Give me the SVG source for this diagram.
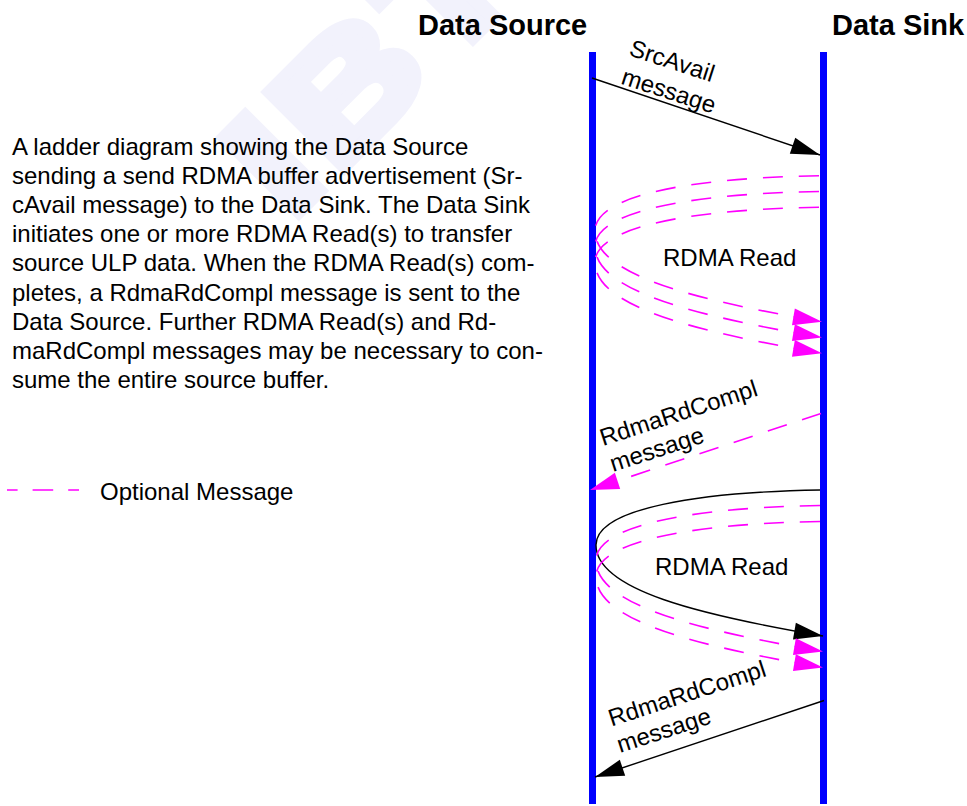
<svg xmlns="http://www.w3.org/2000/svg" width="967" height="806" viewBox="0 0 967 806">
<style>
.t{font-family:"Liberation Sans",Arial,sans-serif;font-size:24px;fill:#000}
.h{font-family:"Liberation Sans",Arial,sans-serif;font-size:29px;font-weight:bold;fill:#000}
.life{stroke:#0000ff;stroke-width:7;fill:none}
.solid{stroke:#000;stroke-width:1.4;fill:none}
.opt{stroke:#ff00ff;stroke-width:1.6;fill:none;stroke-dasharray:20 16}
.wm{font-family:"Liberation Sans",Arial,sans-serif;font-size:155px;font-weight:bold;fill:#f2f2fc;stroke:#f2f2fc;stroke-width:12;letter-spacing:8px}
</style>
<defs>
<marker id="ak" markerUnits="userSpaceOnUse" orient="auto" viewBox="-30 -10 31 20" refX="0" refY="0" markerWidth="31" markerHeight="20"><path d="M0,0 L-29,-8.5 L-29,8.5 Z" fill="#000"/></marker>
<marker id="am" markerUnits="userSpaceOnUse" orient="auto" viewBox="-30 -10 31 20" refX="0" refY="0" markerWidth="31" markerHeight="20"><path d="M0,0 L-29,-8.5 L-29,8.5 Z" fill="#ff00ff"/></marker>
</defs>
<g id="watermark"><text class="wm" transform="translate(290.8,220.7) rotate(-45) scale(1.25,1)">IBTA</text></g>
<g id="description">
<text class="t" x="12" y="155">A ladder diagram showing the Data Source</text>
<text class="t" x="12" y="184.1">sending a send RDMA buffer advertisement (Sr-</text>
<text class="t" x="12" y="213.2">cAvail message) to the Data Sink. The Data Sink</text>
<text class="t" x="12" y="242.3">initiates one or more RDMA Read(s) to transfer</text>
<text class="t" x="12" y="271.4">source ULP data. When the RDMA Read(s) com-</text>
<text class="t" x="12" y="300.5">pletes, a RdmaRdCompl message is sent to the</text>
<text class="t" x="12" y="329.6">Data Source. Further RDMA Read(s) and Rd-</text>
<text class="t" x="12" y="358.7">maRdCompl messages may be necessary to con-</text>
<text class="t" x="12" y="387.8">sume the entire source buffer.</text>
</g>
<g id="legend">
<line class="opt" x1="7" y1="490" x2="79" y2="490" style="stroke-dasharray:20.6 15;stroke-dashoffset:10"/>
<text class="t" x="100" y="500">Optional Message</text>
</g>
<g id="data-source">
<text class="h" x="418" y="35">Data Source</text>
<line class="life" x1="592.5" y1="52" x2="592.5" y2="804"/>
</g>
<g id="data-sink">
<text class="h" x="832" y="35">Data Sink</text>
<line class="life" x1="823.5" y1="52" x2="823.5" y2="804"/>
</g>
<g id="connectors">
<line class="solid" x1="592" y1="78" x2="820" y2="155" marker-end="url(#ak)"/>
<path class="opt" transform="translate(819,175.7)" d="M0,0 C-120,2 -224,18 -224,55 C-224,100 -120,125 3,146" marker-end="url(#am)"/>
<path class="opt" transform="translate(819,191.5)" d="M0,0 C-120,2 -224,18 -224,55 C-224,100 -120,125 3,146" marker-end="url(#am)"/>
<path class="opt" transform="translate(819,207.2)" d="M0,0 C-120,2 -224,18 -224,55 C-224,100 -120,125 3,146" marker-end="url(#am)"/>
<line class="opt" x1="821" y1="413.5" x2="590" y2="490" marker-end="url(#am)"/>
<path class="solid" transform="translate(820,490)" d="M0,0 C-120,2 -224,18 -224,55 C-224,100 -120,125 3,146" marker-end="url(#ak)"/>
<path class="opt" transform="translate(820,505.5)" d="M0,0 C-120,2 -224,18 -224,55 C-224,100 -120,125 3,146" marker-end="url(#am)"/>
<path class="opt" transform="translate(820,521.5)" d="M0,0 C-120,2 -224,18 -224,55 C-224,100 -120,125 3,146" marker-end="url(#am)"/>
<line class="solid" x1="824" y1="700.5" x2="595" y2="777" marker-end="url(#ak)"/>
</g>
<g id="labels">
<text class="t" transform="translate(628,55) rotate(18)">SrcAvail</text>
<text class="t" transform="translate(620,83.5) rotate(18)">message</text>
<text class="t" x="663" y="266">RDMA Read</text>
<text class="t" transform="translate(603,446) rotate(-18)">RdmaRdCompl</text>
<text class="t" transform="translate(613,472) rotate(-18)">message</text>
<text class="t" x="655" y="575">RDMA Read</text>
<text class="t" transform="translate(611.5,726.5) rotate(-18)">RdmaRdCompl</text>
<text class="t" transform="translate(620,753) rotate(-18)">message</text>
</g>
</svg>
